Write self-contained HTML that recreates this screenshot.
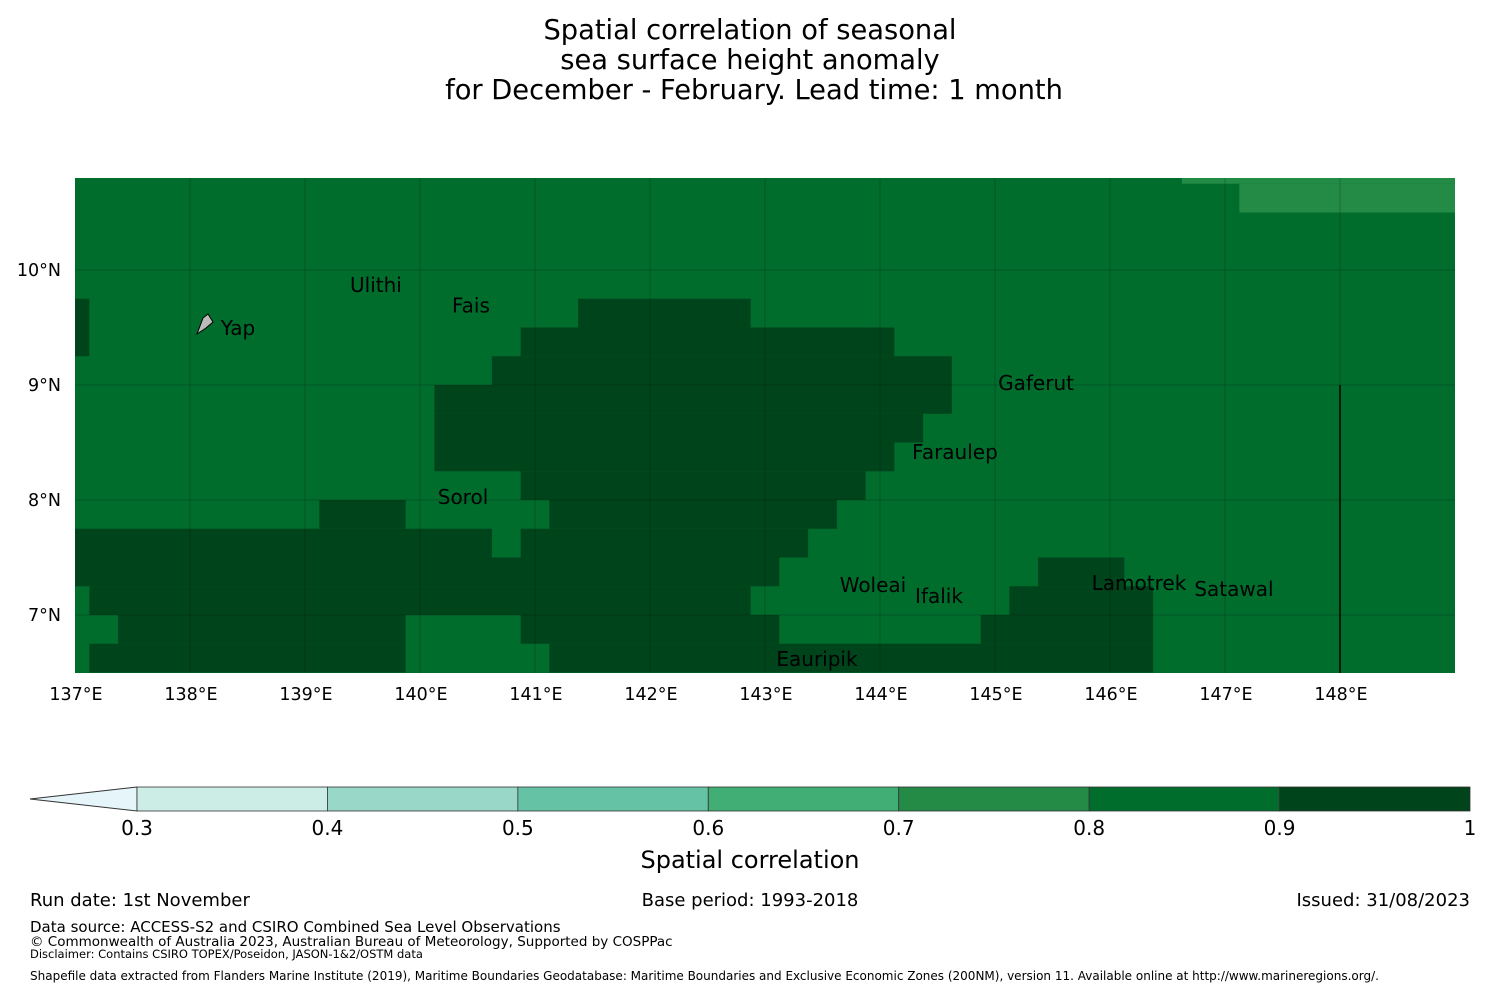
<!DOCTYPE html>
<html><head><meta charset="utf-8"><style>
body{margin:0;background:#fff;width:1500px;height:990px;overflow:hidden;font-family:"DejaVu Sans","Liberation Sans",sans-serif}
svg text{font-family:"DejaVu Sans","Liberation Sans",sans-serif}
</style></head><body>
<svg id="chart" width="1500" height="990" xmlns="http://www.w3.org/2000/svg">
<g font-size="27.3" text-anchor="middle" fill="#000">
<text x="750" y="39">Spatial correlation of seasonal</text>
<text x="750" y="69">sea surface height anomaly</text>
<text x="754" y="99">for December - February. Lead time: 1 month</text>
</g>
<rect x="75" y="178" width="1380" height="495" fill="#006d2c"/>
<g id="cells"></g>
<g id="grid"></g>
<line x1="1340" y1="385" x2="1340" y2="673" stroke="#000" stroke-width="1.5"/>
<path d="M197,334 L203,318 L208,314 L213,322 L206,328 Z" fill="#bbb" stroke="#000" stroke-width="1"/>
<g id="places" font-size="20" fill="#000"></g>
<g id="axes" font-size="17.5" fill="#000"></g>
<g id="cbar"></g>
<text x="750" y="868" font-size="24" text-anchor="middle">Spatial correlation</text>
<g font-size="18">
<text x="30" y="906">Run date: 1st November</text>
<text x="750" y="906" text-anchor="middle">Base period: 1993-2018</text>
<text x="1470" y="906" text-anchor="end">Issued: 31/08/2023</text>
<text x="30" y="932" font-size="15">Data source: ACCESS-S2 and CSIRO Combined Sea Level Observations</text>
<text x="30" y="946" font-size="13.5">© Commonwealth of Australia 2023, Australian Bureau of Meteorology, Supported by COSPPac</text>
<text x="30" y="958" font-size="11.5">Disclaimer: Contains CSIRO TOPEX/Poseidon, JASON-1&amp;2/OSTM data</text>
<text x="30" y="980" font-size="12">Shapefile data extracted from Flanders Marine Institute (2019), Maritime Boundaries Geodatabase: Maritime Boundaries and Exclusive Economic Zones (200NM), version 11. Available online at http://www.marineregions.org/.</text>
</g>
</svg>
<script>
const rowLats=[[9.75,9.5],[9.5,9.25],[9.25,9.0],[9.0,8.75],[8.75,8.5],[8.5,8.25],[8.25,8.0],[8.0,7.75],[7.75,7.5],[7.5,7.25],[7.25,7.0],[7.0,6.75],[6.75,6.5]];
const darkRuns=[
[[137,137.125],[141.375,142.875]],
[[137,137.125],[140.875,144.125]],
[[140.625,144.625]],
[[140.125,144.625]],
[[140.125,144.375]],
[[140.125,144.125]],
[[140.875,143.875]],
[[139.125,139.875],[141.125,143.625]],
[[137,140.625],[140.875,143.375]],
[[137,143.125],[145.375,146.125]],
[[137.125,142.875],[145.125,146.375]],
[[137.375,139.875],[140.875,143.125],[144.875,146.375]],
[[137.125,139.875],[141.125,146.375]]];
const lightRuns=[[10.8,10.75,146.625,149],[10.75,10.5,147.125,149]];
const lonTicks=[137,138,139,140,141,142,143,144,145,146,147,148];
const latTicks=[10,9,8,7];
const cbBounds=[0.3,0.4,0.5,0.6,0.7,0.8,0.9,1];
const cbColors=["#ccece6","#99d8c9","#66c2a4","#41ae76","#238b45","#006d2c","#00441b"];
const places=[["Ulithi",139.617,9.87],["Fais",140.443,9.69],["Yap",138.417,9.495],["Gaferut",145.357,9.017],["Faraulep",144.652,8.417],["Sorol",140.374,8.026],["Woleai",143.939,7.26],["Ifalik",144.513,7.165],["Lamotrek",146.252,7.278],["Satawal",147.078,7.226],["Eauripik",143.452,6.617]];
const NS="http://www.w3.org/2000/svg";
const X=lon=>75+(lon-137)*115, Y=lat=>270+(10-lat)*115;
function mk(t,a,p){const e=document.createElementNS(NS,t);for(const k in a)e.setAttribute(k,a[k]);p.appendChild(e);return e;}
const cells=document.getElementById('cells');
rowLats.forEach((r,i)=>darkRuns[i].forEach(run=>{
 const e=mk('rect',{x:X(run[0]),y:Y(r[0]),width:X(run[1])-X(run[0]),height:Y(r[1])-Y(r[0]),fill:'#00441b'},cells);
 
 
}));
lightRuns.forEach(l=>{
 const e=mk('rect',{x:X(l[2]),y:Y(l[0]),width:X(l[3])-X(l[2]),height:Y(l[1])-Y(l[0]),fill:'#238b45'},cells);
 
 
});
const grid=document.getElementById('grid'),axes=document.getElementById('axes');
lonTicks.forEach(l=>{
 if(l>137){const g=mk('line',{x1:X(l),x2:X(l),y1:178,y2:673,stroke:'#000','stroke-opacity':0.2,'stroke-width':1},grid);
 }
 const t=mk('text',{x:X(l)+1,y:700,'text-anchor':'middle'},axes);t.textContent=l+'°E';
 
 
});
latTicks.forEach(l=>{
 const g=mk('line',{x1:75,x2:1455,y1:Y(l),y2:Y(l),stroke:'#000','stroke-opacity':0.2,'stroke-width':1},grid);
 
 const t=mk('text',{x:61,y:Y(l)+6,'text-anchor':'end'},axes);t.textContent=l+'°N';
 
 
});
const pl=document.getElementById('places');
places.forEach(p=>{const t=mk('text',{x:X(p[1]),y:Y(p[2])+7,'text-anchor':'middle'},pl);t.textContent=p[0];
 
 });
const cb=document.getElementById('cbar');
const CX=v=>137+(v-0.3)/0.7*1333;
const tri=mk('polygon',{points:'137,787 30,799 137,811',fill:'#e5f5f9',stroke:'#333','stroke-width':1},cb);

cbColors.forEach((c,i)=>{const r=mk('rect',{x:CX(cbBounds[i]),y:787,width:CX(cbBounds[i+1])-CX(cbBounds[i]),height:24,fill:c,stroke:'#333','stroke-width':0.8},cb);
 });
cbBounds.forEach(v=>{const t=mk('text',{x:CX(v),y:835,'text-anchor':'middle','font-size':20},cb);t.textContent=(v===1?'1':v.toFixed(1));
 });
</script>
</body></html>
